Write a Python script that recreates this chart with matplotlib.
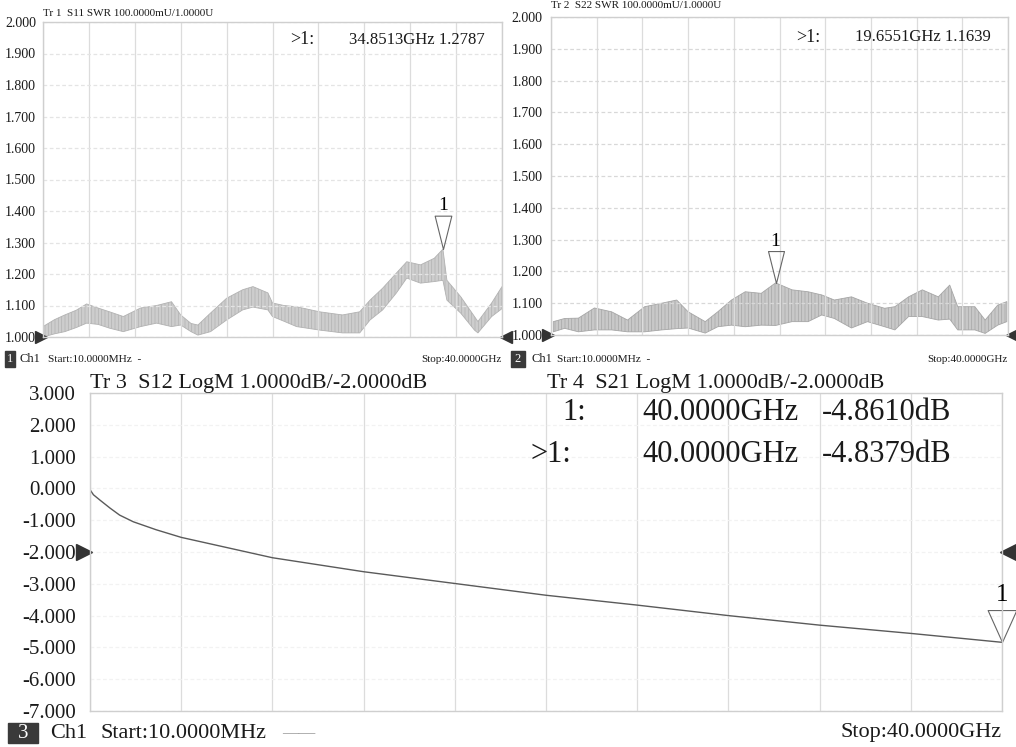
import matplotlib
matplotlib.use('Agg')
import matplotlib.pyplot as plt
import numpy as np
from matplotlib.path import Path
from matplotlib.patches import Rectangle

# S11 SWR trace, noisy band read as upper / lower envelope
s11_freq = [0, 1.0, 1.9, 2.9, 3.8, 4.8, 5.8, 7.0, 8.5, 9.9, 11.2, 12.0, 12.9, 13.5, 14.6,
            16.0, 17.4, 18.3, 19.6, 20.0, 21.0, 22.1, 24.1, 26.1, 27.6, 28.5, 29.6, 30.8,
            31.7, 32.9, 34.1, 34.85, 35.2, 36.4, 37.6, 37.9, 39.1, 40.0]
s11_upper = [1.033, 1.055, 1.070, 1.085, 1.105, 1.092, 1.080, 1.065, 1.092, 1.100, 1.112,
             1.070, 1.043, 1.038, 1.076, 1.123, 1.150, 1.160, 1.140, 1.108, 1.100, 1.096,
             1.080, 1.070, 1.080, 1.117, 1.155, 1.203, 1.239, 1.229, 1.250, 1.279, 1.180,
             1.128, 1.065, 1.049, 1.108, 1.160]
s11_lower = [1.000, 1.010, 1.017, 1.030, 1.044, 1.040, 1.028, 1.017, 1.033, 1.044, 1.033,
             1.038, 1.017, 1.006, 1.017, 1.054, 1.086, 1.095, 1.086, 1.065, 1.050, 1.033,
             1.022, 1.013, 1.013, 1.054, 1.086, 1.140, 1.187, 1.171, 1.176, 1.180, 1.117,
             1.076, 1.022, 1.013, 1.065, 1.090]

# S22 SWR trace
s22_freq = [0.2, 1.2, 2.4, 3.8, 5.3, 6.7, 8.2, 9.7, 11.0, 12.0, 13.5, 14.6, 15.8, 17.0, 18.4,
            19.66, 21.1, 22.5, 23.7, 24.8, 26.3, 27.7, 29.2, 30.1, 31.3, 32.5, 33.9, 34.9,
            35.6, 37.1, 38.0, 39.1, 39.9]
s22_upper = [1.042, 1.052, 1.053, 1.085, 1.073, 1.047, 1.089, 1.100, 1.110, 1.073, 1.042,
             1.073, 1.110, 1.136, 1.131, 1.164, 1.142, 1.136, 1.126, 1.110, 1.120, 1.100,
             1.084, 1.089, 1.120, 1.142, 1.120, 1.157, 1.089, 1.089, 1.047, 1.094, 1.105]
s22_lower = [1.010, 1.021, 1.010, 1.016, 1.016, 1.010, 1.010, 1.016, 1.020, 1.022, 1.006,
             1.026, 1.031, 1.026, 1.031, 1.030, 1.042, 1.042, 1.063, 1.052, 1.022, 1.042,
             1.026, 1.016, 1.058, 1.058, 1.047, 1.050, 1.016, 1.016, 1.005, 1.031, 1.042]

# S21 log magnitude
s21_freq = [0.01, 0.15, 0.44, 0.88, 1.3, 1.9, 2.9, 4, 8, 12, 16, 20, 24, 28, 32, 36, 40]
s21_db = [-0.05, -0.20, -0.37, -0.62, -0.84, -1.05, -1.30, -1.54, -2.18, -2.62, -2.99,
          -3.36, -3.67, -4.00, -4.30, -4.56, -4.84]

mk1 = (34.8513, 1.2787)
mk2 = (19.6551, 1.1639)
mk3 = (40.0, -4.8379)

swr_ticks = np.round(np.arange(1.0, 2.01, 0.1), 1)
db_ticks = np.arange(-7, 4, 1)
freq_grid = np.arange(0, 41, 4)

W, H = 1016, 747
FONT = ['Liberation Serif', 'DejaVu Serif']
plt.rcParams['hatch.linewidth'] = 0.5

fig = plt.figure(figsize=(W / 100, H / 100), dpi=100)
fig.patch.set_facecolor('white')


def px_axes(l, t, r, b):
    return fig.add_axes([l / W, 1 - b / H, (r - l) / W, (b - t) / H])


def txt(x, y, s, size, ha='left', color='#1a1a1a', **kw):
    fig.text(x / W, 1 - y / H, s, fontsize=size, ha=ha, va='center',
             family=FONT, color=color, **kw)


def style(ax, yt, lim, fs, pad, hgrid):
    ax.set_xlim(0, 40)
    ax.set_ylim(*lim)
    ax.set_xticks(freq_grid)
    ax.set_xticklabels([])
    ax.set_yticks(yt)
    ax.set_yticklabels(['%.3f' % v for v in yt], family=FONT, fontsize=fs, color='#1a1a1a')
    ax.tick_params(length=0, pad=pad)
    ax.grid(axis='x', color='#dcdcdc', lw=0.9)
    ax.grid(axis='y', color=hgrid, lw=0.9, ls=(0, (3, 2)))
    for s in ax.spines.values():
        s.set_color('#cfcfcf')
        s.set_linewidth(1.0)


def down_marker(hw):
    return Path([(-hw, 1), (hw, 1), (0, 0), (-hw, 1)],
                [Path.MOVETO, Path.LINETO, Path.LINETO, Path.CLOSEPOLY])


def ref_arrows(ax, level, xl, xr, ms):
    ax.plot([xl], [level], marker='>', ms=ms, color='#333333',
            transform=ax.get_yaxis_transform(), clip_on=False)
    ax.plot([xr], [level], marker='<', ms=ms, color='#333333',
            transform=ax.get_yaxis_transform(), clip_on=False)


# ---- top left: S11 SWR
ax1 = px_axes(43, 22, 502, 337)
style(ax1, swr_ticks, (1.0, 2.0), 10, 5, '#e4e4e4')
ax1.fill_between(s11_freq, s11_lower, s11_upper, facecolor='#cdcdcd',
                 edgecolor='#b2b2b2', hatch='|||||', lw=0.6)
ax1.plot(mk1[0], mk1[1], marker=down_marker(0.25), ms=48, mfc='none', mec='#666666', mew=0.8)
ax1.annotate('1', mk1, xytext=(0, 25), textcoords='offset points', ha='center',
             va='bottom', fontsize=14, family=FONT)
ref_arrows(ax1, 1.0, -0.004, 1.009, 9)

# ---- top right: S22 SWR
ax2 = px_axes(551, 17, 1008, 335)
style(ax2, swr_ticks, (1.0, 2.0), 10, 6, '#d8d8d8')
ax2.fill_between(s22_freq, s22_lower, s22_upper, facecolor='#c8c8c8',
                 edgecolor='#a6a6a6', hatch='|||||', lw=0.6)
ax2.plot(mk2[0], mk2[1], marker=down_marker(0.25), ms=46, mfc='none', mec='#666666', mew=0.8)
ax2.annotate('1', mk2, xytext=(0, 24), textcoords='offset points', ha='center',
             va='bottom', fontsize=14, family=FONT)
ref_arrows(ax2, 1.0, -0.006, 1.009, 9)

# ---- bottom: S12 / S21 LogM
ax3 = px_axes(90, 393, 1002, 711)
style(ax3, db_ticks, (-7, 3), 15, 10, '#f2f2f2')
ax3.plot(s21_freq, s21_db, color='#5a5a5a', lw=1.0)
ax3.plot(mk3[0], mk3[1], marker=down_marker(0.45), ms=46, mfc='none', mec='#666666',
         mew=0.8, clip_on=False)
ax3.annotate('1', mk3, xytext=(0, 26), textcoords='offset points', ha='center',
             va='bottom', fontsize=18, family=FONT)
ref_arrows(ax3, -2.0, -0.007, 1.007, 12)

# ---- header texts
txt(43, 13, 'Tr 1  S11 SWR 100.0000mU/1.0000U', 8)
txt(551, 6, 'Tr 2  S22 SWR 100.0000mU/1.0000U', 8)
txt(290, 40, '>1:', 13)
txt(485, 40, '34.8513GHz 1.2787', 12, ha='right')
txt(796, 37, '>1:', 13)
txt(991, 37, '19.6551GHz 1.1639', 12, ha='right')

txt(90, 383, 'Tr 3  S12 LogM 1.0000dB/-2.0000dB', 16)
txt(547, 383, 'Tr 4  S21 LogM 1.0000dB/-2.0000dB', 16)
txt(562, 413, '1:', 22)
txt(530, 455, '>1:', 22)
txt(642, 413, '40.0000GHz', 22)
txt(642, 455, '40.0000GHz', 22)
txt(822, 413, '-4.8610dB', 22)
txt(822, 455, '-4.8379dB', 22)

# ---- footers
for (bx, by, bw, bh, n) in [(5, 351, 10, 16, '1'), (511, 351, 14, 16, '2'), (8, 723, 30, 20, '3')]:
    fig.patches.append(Rectangle((bx / W, 1 - (by + bh) / H), bw / W, bh / H,
                                 transform=fig.transFigure, color='#3a3a3a'))
    txt(bx + bw / 2, by + bh / 2, n, 9 if bh < 20 else 15, ha='center', color='white')

txt(20, 359, 'Ch1', 9)
txt(48, 359, 'Start:10.0000MHz  -', 8.2)
txt(502, 359, 'Stop:40.0000GHz', 8, ha='right')
txt(531, 359, 'Ch1', 9)
txt(557, 359, 'Start:10.0000MHz  -', 8.2, color='#1a1a1a')
txt(1008, 359, 'Stop:40.0000GHz', 8, ha='right')

txt(50, 733, 'Ch1', 16)
txt(100, 733, 'Start:10.0000MHz', 16)
txt(282, 733, '\u2014\u2014', 12, color='#999999')
txt(1002, 733, 'Stop:40.0000GHz', 16, ha='right')

fig.savefig('out.png', dpi=100, facecolor='white')
